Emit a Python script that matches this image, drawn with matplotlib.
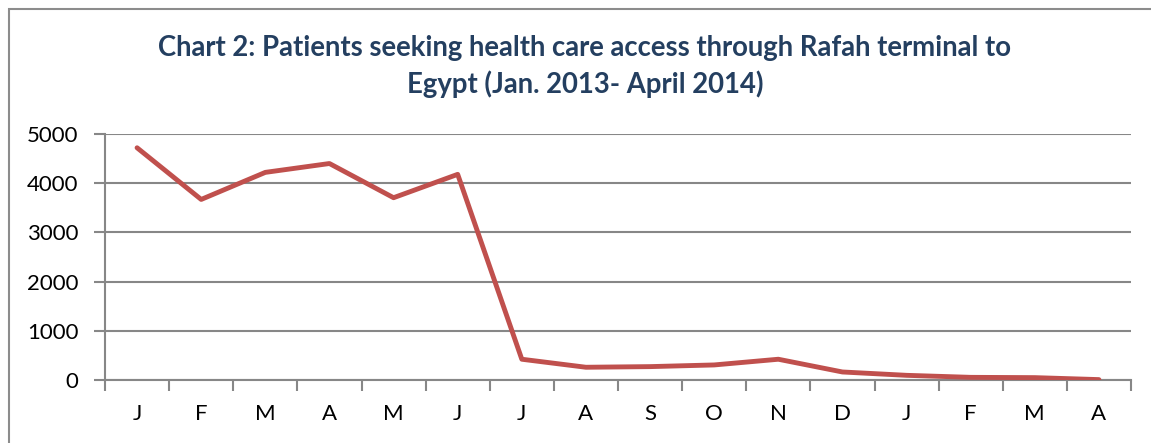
import matplotlib
matplotlib.use("Agg")
import matplotlib.pyplot as plt
from matplotlib.patches import Rectangle

# Monatsdaten Jan. 2013 - April 2014
months = ["J", "F", "M", "A", "M", "J", "J", "A", "S", "O", "N", "D", "J", "F", "M", "A"]
patients = [4720, 3670, 4220, 4400, 3705, 4180, 422, 259, 272, 306, 422, 163, 95, 54, 48, 8]
y_ticks = [0, 1000, 2000, 3000, 4000, 5000]

plt.rcParams['font.family'] = ['Lato', 'DejaVu Sans']

fig = plt.figure(figsize=(11.51, 4.43), dpi=100)
ax = fig.add_axes([105 / 1151, 1 - 380 / 443, (1131 - 105) / 1151, (380 - 134) / 443])

x = list(range(len(months)))
ax.plot(x, patients, color="#C0504D", linewidth=3.5, solid_capstyle="round", zorder=3)

grid_col = "#878787"
ax.set_ylim(0, 5000)
ax.set_xlim(-0.5, len(months) - 0.5)
ax.set_yticks(y_ticks)
ax.set_yticklabels([str(v) for v in y_ticks], fontsize=16)
ax.set_xticks(x)
ax.set_xticklabels(months, fontsize=16)
ax.set_xticks([i - 0.5 for i in range(len(months) + 1)], minor=True)
ax.tick_params(axis="x", which="major", length=0, pad=17)
ax.tick_params(axis="x", which="minor", length=8, width=1.5, color=grid_col)
ax.tick_params(axis="y", length=8, width=1.5, color=grid_col, pad=11)
ax.grid(axis="y", color=grid_col, linewidth=1.5)
for s in ["top", "right"]:
    ax.spines[s].set_visible(False)
for s in ["left", "bottom"]:
    ax.spines[s].set_color(grid_col)
    ax.spines[s].set_linewidth(1.5)
ax.set_axisbelow(True)

fig.text(585 / 1151, 1 - 66.5 / 443,
         "Chart 2: Patients seeking health care access through Rafah terminal to\nEgypt (Jan. 2013- April 2014)",
         ha="center", va="center", fontsize=19.8, fontweight="bold", color="#243F60", linespacing=1.4)

# Rahmen um das Diagramm
fig.patches.append(Rectangle((8.5 / 1151, -0.1), 1.2, 1 - 8.5 / 443 + 0.1, transform=fig.transFigure,
                             fill=False, edgecolor="#8C8C8C", linewidth=1.5))

fig.savefig("out.png", dpi=100)
